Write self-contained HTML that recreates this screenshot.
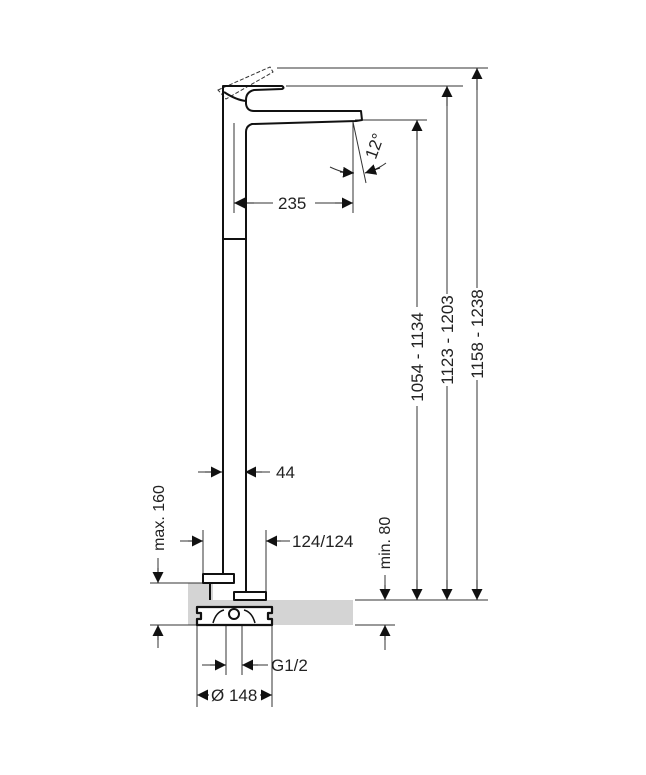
<!DOCTYPE html>
<html><head><style>
body{margin:0;background:#fff}
svg{display:block}
text{font-family:"Liberation Sans",sans-serif;font-size:17px;fill:#222}
</style></head><body>
<svg width="646" height="775" viewBox="0 0 646 775" xmlns="http://www.w3.org/2000/svg">
<defs>
<marker id="a" viewBox="0 0 10 10" refX="10" refY="5" markerWidth="11" markerHeight="11" markerUnits="userSpaceOnUse" orient="auto"><path d="M0,0L10,5L0,10z" fill="#111"/></marker>
</defs>
<rect x="188" y="583" width="25" height="42" fill="#d4d4d4"/>
<rect x="213" y="600" width="140" height="25" fill="#d4d4d4"/>
<g stroke="#333" stroke-width="1" fill="none">
<line x1="277" y1="68" x2="488" y2="68"/>
<line x1="286" y1="86" x2="463" y2="86"/>
<line x1="355" y1="120" x2="427" y2="120"/>
<line x1="355" y1="600" x2="488" y2="600"/>
<line x1="150" y1="583" x2="205" y2="583"/>
<line x1="150" y1="625" x2="198" y2="625"/>
<line x1="355" y1="625" x2="395" y2="625"/>
<line x1="477" y1="78" x2="477" y2="288"/><line x1="477" y1="380" x2="477" y2="590"/>
<line x1="447" y1="96" x2="447" y2="294"/><line x1="447" y1="386" x2="447" y2="590"/>
<line x1="417" y1="130" x2="417" y2="307"/><line x1="417" y1="406" x2="417" y2="590"/>
<line x1="234" y1="123" x2="234" y2="213"/>
<line x1="353" y1="122" x2="353" y2="213"/>
<line x1="245" y1="203" x2="273" y2="203"/>
<line x1="315" y1="203" x2="343" y2="203"/>
<line x1="353" y1="122" x2="366" y2="183"/>
<path d="M330,167 Q345,174 353,173"/>
<path d="M368,172 Q378,169 386,163"/>
<line x1="198" y1="472" x2="212" y2="472"/>
<line x1="255" y1="472" x2="270" y2="472"/>
<line x1="203" y1="530" x2="203" y2="575"/>
<line x1="266" y1="530" x2="266" y2="592"/>
<line x1="180" y1="541" x2="193" y2="541"/>
<line x1="276" y1="541" x2="290" y2="541"/>
<line x1="158" y1="558" x2="158" y2="573"/>
<line x1="158" y1="648" x2="158" y2="635"/>
<line x1="385" y1="575" x2="385" y2="590"/>
<line x1="385" y1="650" x2="385" y2="635"/>
<line x1="226" y1="625" x2="226" y2="675"/>
<line x1="242" y1="625" x2="242" y2="675"/>
<line x1="202" y1="665" x2="216" y2="665"/>
<line x1="252" y1="665" x2="268" y2="665"/>
<line x1="197" y1="625" x2="197" y2="707"/>
<line x1="272" y1="625" x2="272" y2="707"/>
<path d="M218,90 L270,67 L273,72 L226,99 Z" stroke-dasharray="4,2"/>
</g>
<g stroke="#111" stroke-width="1" fill="none">
<line x1="477" y1="90" x2="477" y2="68" marker-end="url(#a)"/>
<line x1="477" y1="580" x2="477" y2="600" marker-end="url(#a)"/>
<line x1="447" y1="106" x2="447" y2="86" marker-end="url(#a)"/>
<line x1="447" y1="580" x2="447" y2="600" marker-end="url(#a)"/>
<line x1="417" y1="140" x2="417" y2="120" marker-end="url(#a)"/>
<line x1="417" y1="580" x2="417" y2="600" marker-end="url(#a)"/>
<line x1="254" y1="203" x2="234" y2="203" marker-end="url(#a)"/>
<line x1="335" y1="203" x2="353" y2="203" marker-end="url(#a)"/>
<line x1="340" y1="172" x2="354" y2="173" marker-end="url(#a)"/>
<line x1="380" y1="168" x2="365" y2="173" marker-end="url(#a)"/>
<line x1="205" y1="472" x2="222" y2="472" marker-end="url(#a)"/>
<line x1="262" y1="472" x2="245" y2="472" marker-end="url(#a)"/>
<line x1="188" y1="541" x2="203" y2="541" marker-end="url(#a)"/>
<line x1="281" y1="541" x2="266" y2="541" marker-end="url(#a)"/>
<line x1="158" y1="568" x2="158" y2="583" marker-end="url(#a)"/>
<line x1="158" y1="640" x2="158" y2="625" marker-end="url(#a)"/>
<line x1="385" y1="585" x2="385" y2="600" marker-end="url(#a)"/>
<line x1="385" y1="640" x2="385" y2="625" marker-end="url(#a)"/>
<line x1="210" y1="665" x2="226" y2="665" marker-end="url(#a)"/>
<line x1="258" y1="665" x2="242" y2="665" marker-end="url(#a)"/>
<line x1="209" y1="695" x2="197" y2="695" marker-end="url(#a)"/>
<line x1="260" y1="695" x2="272" y2="695" marker-end="url(#a)"/>
</g>
<g stroke="#111" stroke-width="2" fill="none" stroke-linejoin="round">
<path d="M223,574 L223,86 L282,86 Q285,88 282,89 L254,90 Q246,92 246,100 L246,104 Q247,111 254,111 L361,111 L362,120 L356,121 L252,124 Q246,126 246,132 L246,591"/>
<path d="M224,92 Q236,100 246,101"/>
<line x1="223" y1="239" x2="246" y2="239"/>
<rect x="203" y="574" width="31" height="9" fill="#fff"/>
<line x1="210" y1="583" x2="210" y2="600"/>
<rect x="234" y="592" width="32" height="8" fill="#fff"/>
<path d="M197,607 L272,607 L272,613 L268,613 L268,619 L272,619 L272,625 L197,625 L197,619 L201,619 L201,613 L197,613 Z" fill="#fff" stroke-width="2.2"/>
<circle cx="234" cy="614" r="5" fill="#fff"/>
<path d="M213,623 Q216,612 224,610 M255,623 Q252,612 244,610" stroke-width="1.5"/>
</g>
<text x="278" y="209">235</text>
<text x="276" y="478">44</text>
<text x="292" y="547">124/124</text>
<text x="271" y="671">G1/2</text>
<text x="211" y="701">Ø 148</text>
<text transform="translate(380,148) rotate(-70)" text-anchor="middle">12°</text>
<text transform="translate(423,357) rotate(-90)" text-anchor="middle">1054 - 1134</text>
<text transform="translate(453,340) rotate(-90)" text-anchor="middle">1123 - 1203</text>
<text transform="translate(483,334) rotate(-90)" text-anchor="middle">1158 - 1238</text>
<text transform="translate(164,518) rotate(-90)" text-anchor="middle" style="font-size:16px">max. 160</text>
<text transform="translate(390,543) rotate(-90)" text-anchor="middle" style="font-size:16px">min. 80</text>
</svg>
</body></html>
